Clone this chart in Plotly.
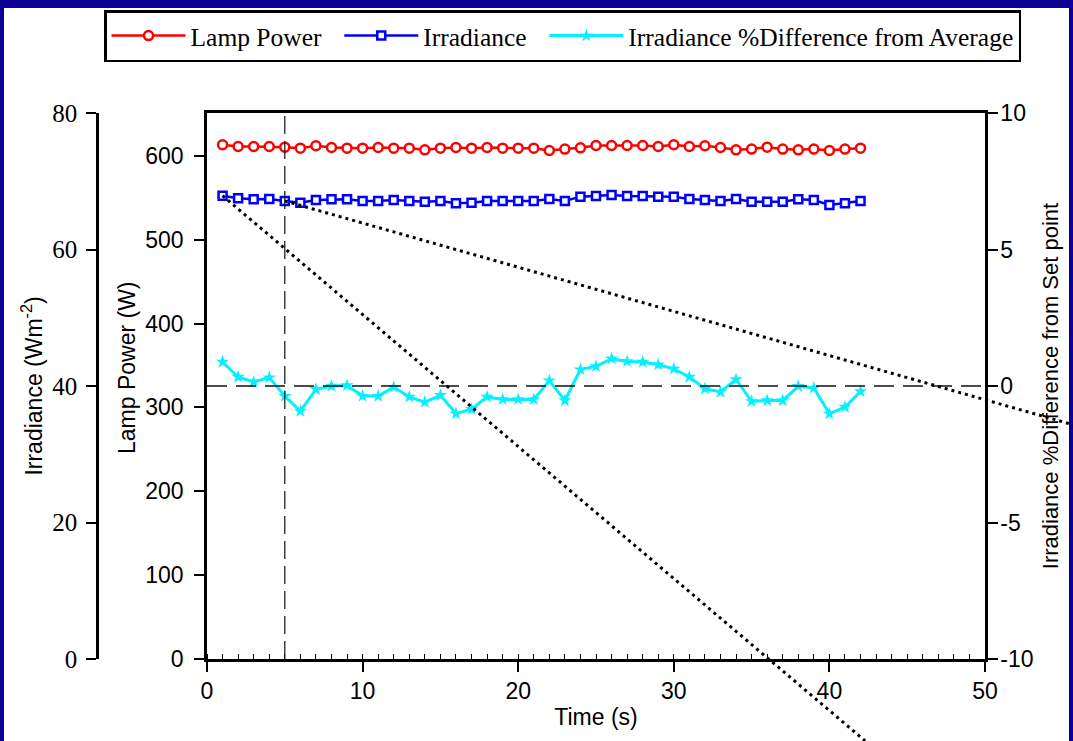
import plotly.graph_objects as go

# time axis (s)
time_s = list(range(1, 43))

# Lamp power (W), read from the red series
lamp_power = [
    613.1, 611.1, 611.1, 611.1, 610.3, 609.1, 611.9, 609.9, 609.1, 609.1,
    609.9, 609.1, 609.1, 607.1, 609.1, 609.9, 609.1, 609.9, 609.1, 609.1,
    609.1, 606.3, 608.0, 609.5, 612.3, 612.3, 612.3, 612.3, 611.1, 613.1,
    611.1, 611.9, 609.9, 607.1, 608.0, 610.3, 608.0, 607.1, 608.0, 606.3,
    608.0, 609.1,
]

# Irradiance (W m-2), blue series on the outer left axis
irradiance = [
    67.88, 67.50, 67.35, 67.40, 67.11, 66.86, 67.25, 67.35, 67.35, 67.11,
    67.11, 67.25, 67.11, 67.01, 67.11, 66.77, 66.86, 67.11, 67.11, 67.11,
    67.11, 67.40, 67.11, 67.74, 67.84, 67.98, 67.84, 67.84, 67.74, 67.74,
    67.40, 67.25, 67.11, 67.40, 67.01, 67.01, 67.01, 67.35, 67.25, 66.52,
    66.77, 67.11,
]

# Irradiance % difference from average, cyan series on the right axis
diff_pct = [
    0.88, 0.33, 0.15, 0.31, -0.37, -0.92, -0.12, 0.00, 0.02, -0.37,
    -0.37, -0.04, -0.40, -0.59, -0.34, -1.01, -0.85, -0.40, -0.49, -0.49,
    -0.49, 0.20, -0.53, 0.60, 0.72, 1.00, 0.90, 0.88, 0.78, 0.63,
    0.33, -0.10, -0.22, 0.24, -0.56, -0.53, -0.53, -0.01, -0.07, -1.01,
    -0.77, -0.20,
]

# right axis ticks (plain hyphen minus as on the original)
pct_ticks = [-10, -5, 0, 5, 10]
pct_ticktext = ["-10", "-5", "0", "5", "10"]

# callout lines drawn over the slide: (time, irradiance) start -> end
callout_lines = [
    ((1, 67.88), (42.3, -12.0)),
    ((5, 67.11), (55.7, 34.3)),
]

W, H = 1073, 741
X_DOM = [207 / W, 985 / W]
Y_DOM = [82 / H, 628 / H]
X_RANGE = [0, 50]
IRR_RANGE = [0, 80]
POWER_RANGE = [0, 651]

SANS = "Liberation Sans"
SERIF = "Liberation Serif"
FRAME = "#0c0096"
NB = "\u00a0"


def to_paper(t, irr):
    px = X_DOM[0] + (t - X_RANGE[0]) / (X_RANGE[1] - X_RANGE[0]) * (X_DOM[1] - X_DOM[0])
    py = Y_DOM[0] + (irr - IRR_RANGE[0]) / (IRR_RANGE[1] - IRR_RANGE[0]) * (Y_DOM[1] - Y_DOM[0])
    return px, py


fig = go.Figure()

fig.add_trace(go.Scatter(
    x=time_s, y=lamp_power, name="Lamp Power" + NB * 2, yaxis="y",
    mode="lines+markers",
    line=dict(color="#ff0000", width=2.5),
    marker=dict(symbol="circle", size=9, color="white", line=dict(color="#ff0000", width=2.5)),
))
fig.add_trace(go.Scatter(
    x=time_s, y=irradiance, name="Irradiance" + NB * 2, yaxis="y3",
    mode="lines+markers",
    line=dict(color="#0000ff", width=2.5),
    marker=dict(symbol="square", size=8, color="white", line=dict(color="#0000ff", width=2.5)),
))
fig.add_trace(go.Scatter(
    x=time_s, y=diff_pct, name="Irradiance %Difference from Average", yaxis="y2",
    mode="lines+markers",
    line=dict(color="#00f2ff", width=3),
    marker=dict(symbol="star", size=10, color="#00f2ff"),
))

shapes = [
    # slide frame
    dict(type="rect", xref="paper", yref="paper", x0=0, x1=1, y0=1 - 8 / H, y1=1,
         fillcolor=FRAME, line_width=0, layer="below"),
    dict(type="rect", xref="paper", yref="paper", x0=0, x1=4 / W, y0=0, y1=1,
         fillcolor=FRAME, line_width=0, layer="below"),
    dict(type="rect", xref="paper", yref="paper", x0=1 - 4 / W, x1=1, y0=0, y1=1,
         fillcolor=FRAME, line_width=0, layer="below"),
    # reference lines
    dict(type="line", xref="x", yref="y2", x0=X_RANGE[0], x1=X_RANGE[1], y0=0, y1=0,
         line=dict(color="#111111", width=1.4, dash="20px,9px")),
    dict(type="line", xref="x", yref="y domain", x0=5, x1=5, y0=0, y1=1,
         line=dict(color="#111111", width=1.2, dash="18px,7px")),
]
for (t0, v0), (t1, v1) in callout_lines:
    x0, y0 = to_paper(t0, v0)
    x1, y1 = to_paper(t1, v1)
    shapes.append(dict(type="line", xref="paper", yref="paper", x0=x0, y0=y0, x1=x1, y1=y1,
                       line=dict(color="black", width=3, dash="3px,4px")))

axis_common = dict(showline=True, linecolor="black", linewidth=2.5, showgrid=False,
                   zeroline=False, ticks="outside", tickcolor="black", tickwidth=2,
                   ticklen=10, automargin=False)

fig.update_layout(
    width=W, height=H,
    margin=dict(l=0, r=0, t=0, b=0),
    paper_bgcolor="white", plot_bgcolor="white",
    showlegend=True,
    legend=dict(orientation="h", x=104 / W, y=1 - 10 / H, xanchor="left", yanchor="top",
                bgcolor="white", bordercolor="black", borderwidth=2.5,
                font=dict(family=SERIF, size=25.5, color="black"),
                itemwidth=74, tracegroupgap=0),
    xaxis=dict(
        **axis_common, domain=X_DOM, range=X_RANGE, dtick=10, anchor="y",
        mirror=True,
        tickfont=dict(family=SANS, size=23, color="black"),
        minor=dict(dtick=1, ticks="inside", ticklen=5, tickcolor="black", tickwidth=1),
        title=dict(text="Time (s)", font=dict(family=SANS, size=23, color="black"), standoff=6),
    ),
    yaxis=dict(
        **axis_common, domain=Y_DOM, range=POWER_RANGE, dtick=100, anchor="x",
        ticklabelstandoff=6,
        tickfont=dict(family=SANS, size=23, color="black"),
    ),
    yaxis2=dict(
        **axis_common, domain=Y_DOM, range=[-10, 10], anchor="x",
        tickvals=pct_ticks, ticktext=pct_ticktext,
        overlaying="y", side="right", ticklabelstandoff=-2,
        tickfont=dict(family=SANS, size=23, color="black"),
        title=dict(text="Irradiance %Difference from Set point",
                   font=dict(family=SANS, size=22, color="black"), standoff=11),
    ),
    yaxis3=dict(
        **axis_common, domain=Y_DOM, range=IRR_RANGE, dtick=20, anchor="free",
        overlaying="y", side="left", position=97 / W, ticklabelstandoff=4,
        tickfont=dict(family=SERIF, size=25, color="black"),
        title=dict(text="Irradiance (Wm<sup>-2</sup>)",
                   font=dict(family=SANS, size=23, color="black"), standoff=2),
    ),
    annotations=[
        dict(text="Lamp Power (W)", xref="paper", yref="paper", x=127 / W, y=1 - 368 / H,
             textangle=-90, showarrow=False, xanchor="center", yanchor="middle",
             font=dict(family=SANS, size=23, color="black")),
    ],
    shapes=shapes,
)

fig.write_html("out.html", config={"displayModeBar": False},
               post_script="document.body.style.margin = '0';")
